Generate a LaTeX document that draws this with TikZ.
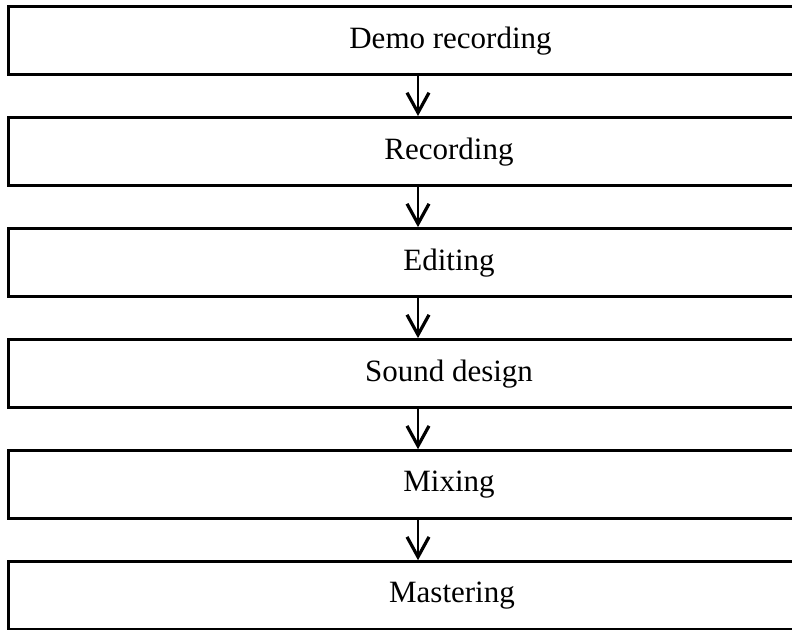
\documentclass[tikz,border=0pt]{standalone}
\usepackage{fontspec}
\setmainfont{Liberation Serif}
\usetikzlibrary{arrows.meta}
\begin{document}
\begin{tikzpicture}[x=1pt,y=-1pt,
  stage/.style={draw=black, line width=3pt, rectangle, minimum width=883pt, minimum height=68pt,
    inner sep=0pt, text=black},
  label/.style={font=\fontsize{31}{37}\selectfont, text=black},
  flow/.style={line width=2.8pt, -{Straight Barb[length=20pt,width=22pt,line width=3.2pt]}}]
\useasboundingbox (0,0) rectangle (792,629);
\clip (0,0) rectangle (792,629);
\fill[white] (0,0) rectangle (792,629);
\node[stage] (b1) at (450.3,40.5) {};
\node[stage] (b2) at (450.3,151.5) {};
\node[stage] (b3) at (450.3,262.6) {};
\node[stage] (b4) at (450.3,373.6) {};
\node[stage] (b5) at (450.3,484.7) {};
\node[stage] (b6) at (450.3,595.7) {};
\node[label] (t1) at (450.5,41) {Demo recording};
\node[label] (t2) at (449,152) {Recording};
\node[label] (t3) at (449,263) {Editing};
\node[label] (t4) at (449,374) {Sound design};
\node[label] (t5) at (449,485) {Mixing};
\node[label] (t6) at (452,596) {Mastering};
\coordinate (ax) at (418,0);
\draw[flow] (b1.south -| ax) -- (b2.north -| ax);
\draw[flow] (b2.south -| ax) -- (b3.north -| ax);
\draw[flow] (b3.south -| ax) -- (b4.north -| ax);
\draw[flow] (b4.south -| ax) -- (b5.north -| ax);
\draw[flow] (b5.south -| ax) -- (b6.north -| ax);
\end{tikzpicture}
\end{document}
